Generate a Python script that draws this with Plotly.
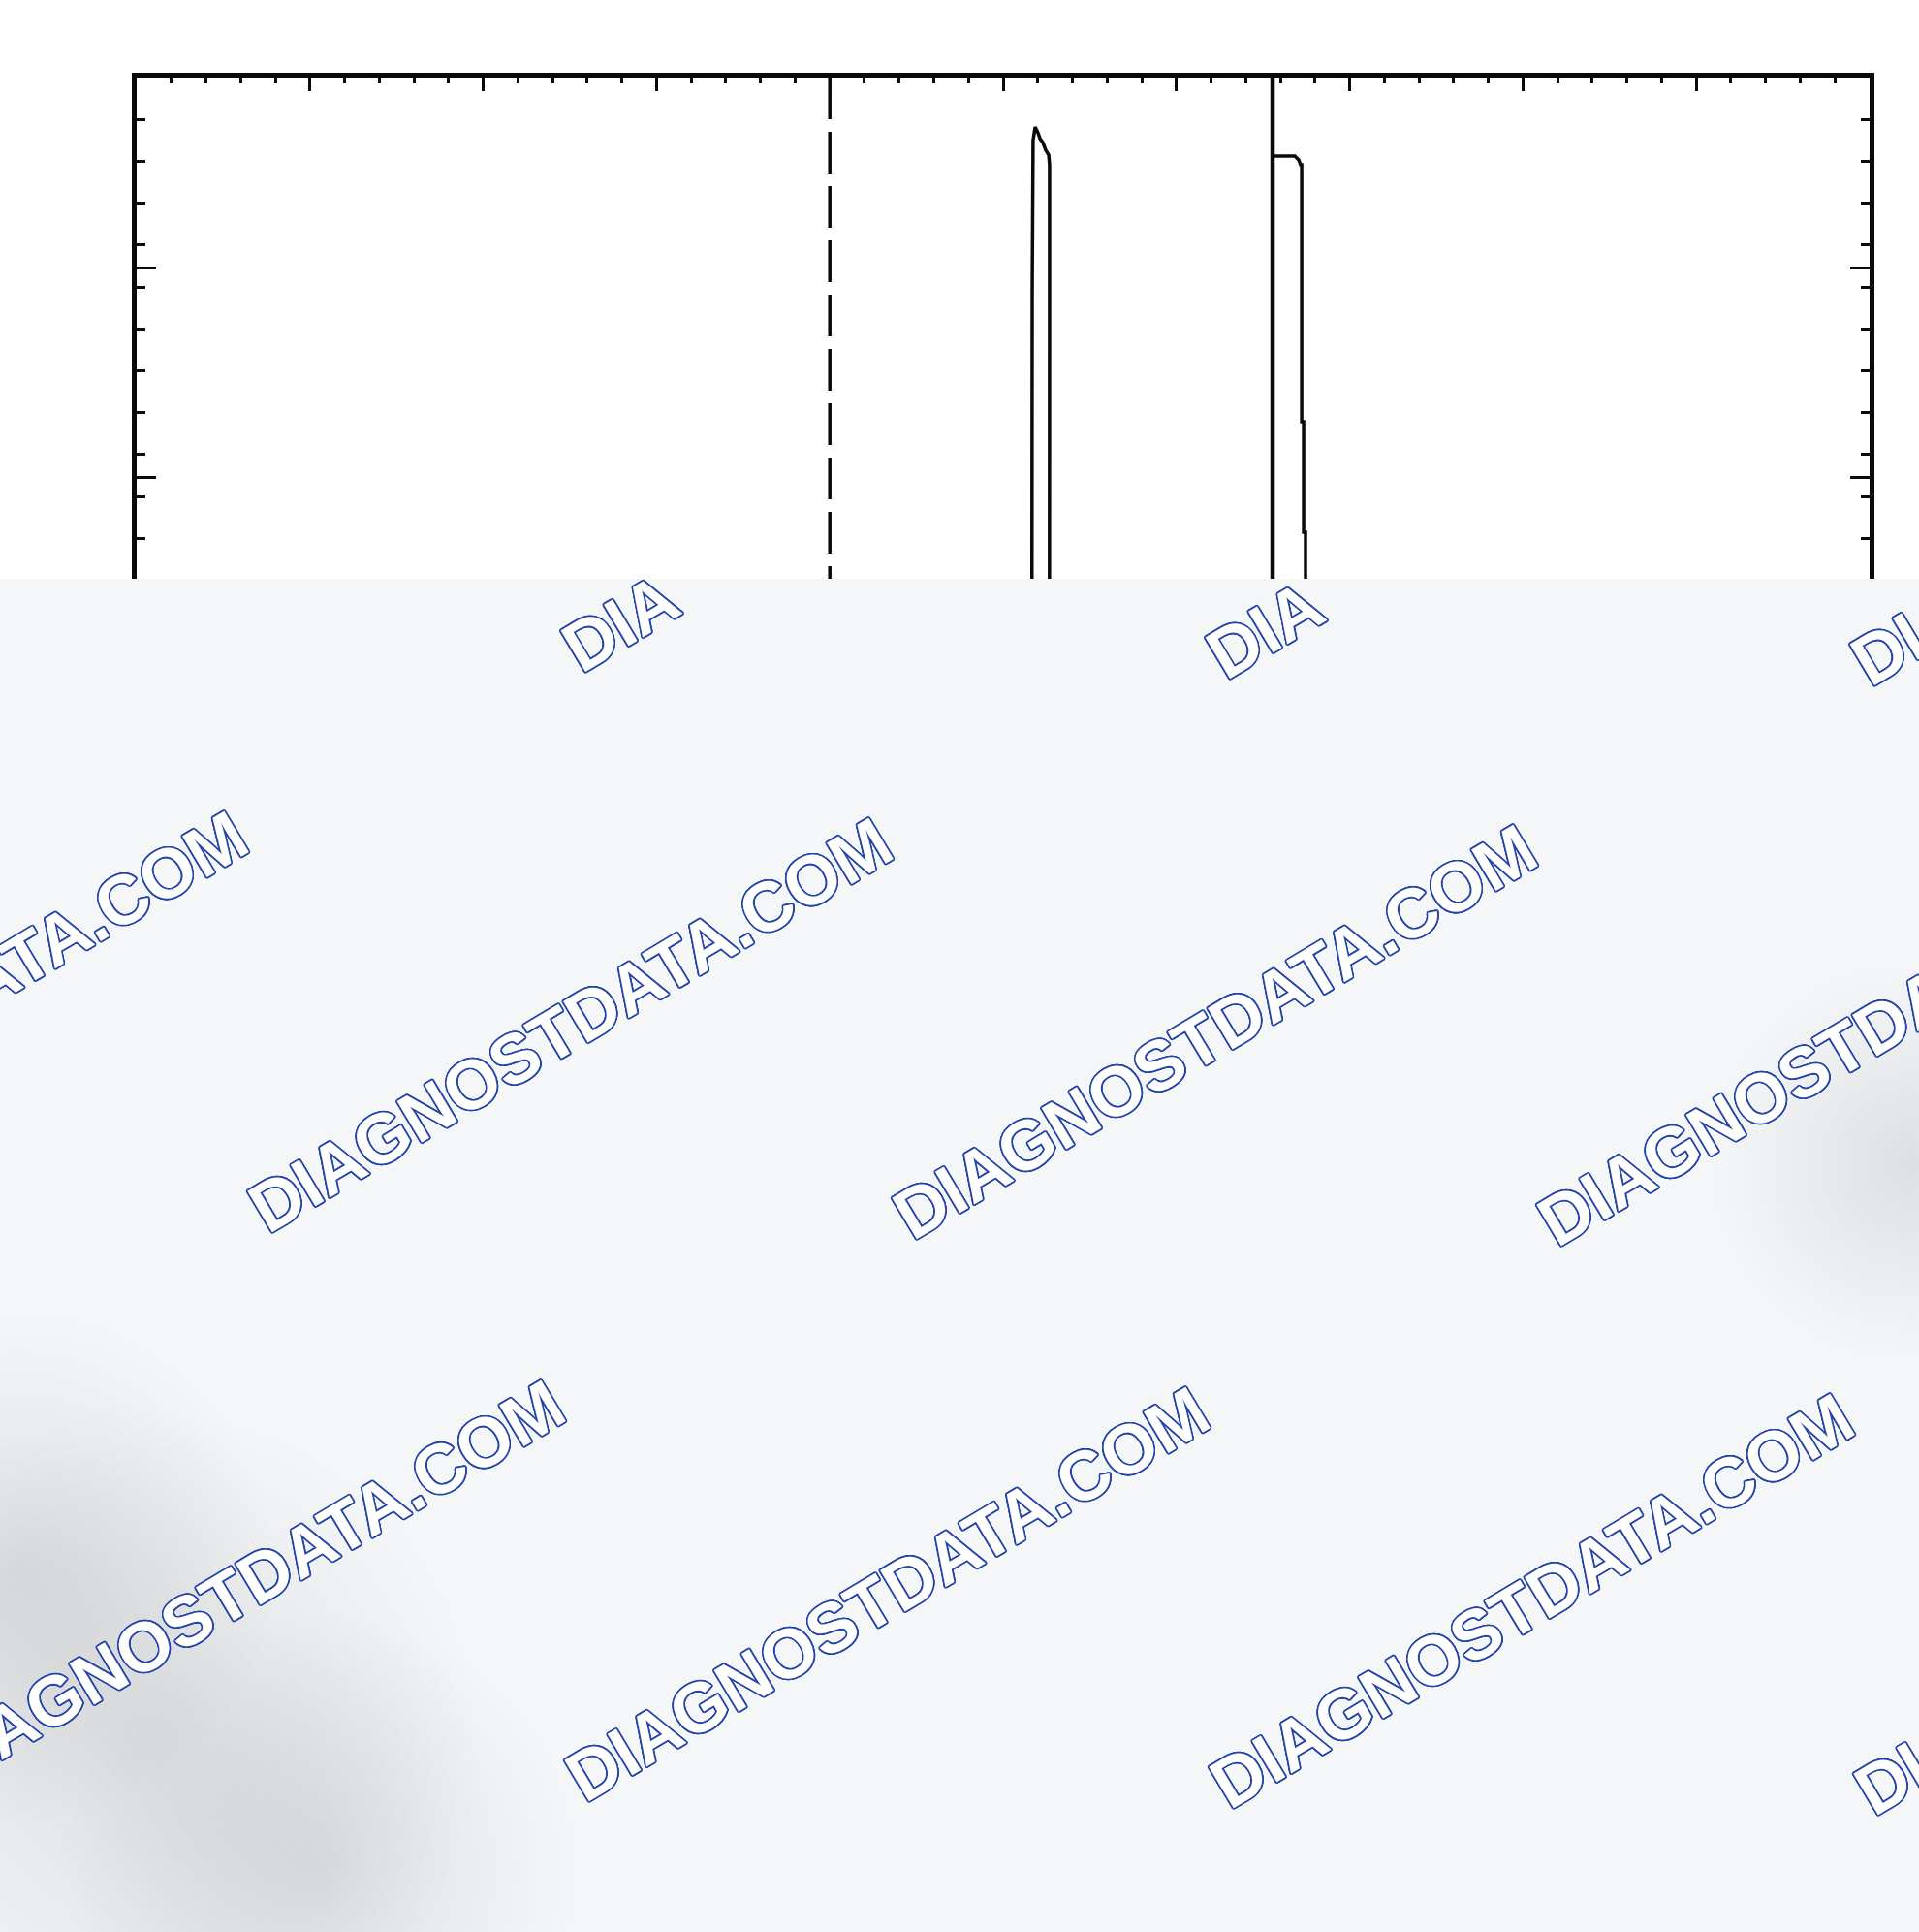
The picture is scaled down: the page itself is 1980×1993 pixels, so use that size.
import math
import plotly.graph_objects as go

# ---------------- data (screen divisions) ----------------
dash_x = [4.0, 4.0]
dash_y = [8.0, 0.3]

pulse1_x = [5.160, 5.162, 5.168, 5.173, 5.185, 5.201, 5.213, 5.229, 5.246, 5.263, 5.268, 5.268, 5.265]
pulse1_y = [0.3, 3.0, 6.981, 7.700, 7.764, 7.736, 7.708, 7.690, 7.653, 7.630, 7.583, 6.981, 0.3]

edge2_x = [6.555, 6.555]
edge2_y = [8.0, 0.3]

pulse2_x = [6.555, 6.683, 6.706, 6.717, 6.723, 6.723, 6.734, 6.734, 6.745, 6.745]
pulse2_y = [7.625, 7.625, 7.606, 7.583, 7.583, 6.356, 6.356, 5.829, 5.829, 0.3]

watermark_text = "DIAGNOSTDATA.COM"
watermark_part = "DIA"

# ---------------- layout geometry ----------------
W, H = 1980, 1993
ML, MR, MT, MB = 141, 51, 80, 185
PW, PH = W - ML - MR, H - MT - MB


def px(xp, yp):
    return (xp - ML) / PW, (H - MB - yp) / PH


fig = go.Figure()
line_black = "#0a0a0a"
fig.add_trace(go.Scatter(x=dash_x, y=dash_y, mode="lines",
                         line=dict(color=line_black, width=3.5, dash="43px,13px"), hoverinfo="skip"))
fig.add_trace(go.Scatter(x=pulse1_x, y=pulse1_y, mode="lines",
                         line=dict(color=line_black, width=3.5), hoverinfo="skip"))
fig.add_trace(go.Scatter(x=edge2_x, y=edge2_y, mode="lines",
                         line=dict(color=line_black, width=4.5), hoverinfo="skip"))
fig.add_trace(go.Scatter(x=pulse2_x, y=pulse2_y, mode="lines",
                         line=dict(color=line_black, width=3.5), hoverinfo="skip"))

shapes = []
# watermark panel
PANEL_TOP = 597
x0, y1 = px(0, PANEL_TOP)
x1, y0 = px(W, H)
shapes.append(dict(type="rect", xref="paper", yref="paper", x0=x0, x1=x1, y0=y0, y1=y1,
                   fillcolor="#f5f6f7", line=dict(width=0), layer="above"))
# soft blotches: (cx, cy, radius, strength, color)
grey = "rgb(168,171,175)"
white = "rgb(255,255,255)"
blotches = [
    (700, 760, 300, 0.85, white), (1250, 800, 240, 0.5, white), (300, 800, 220, 0.5, white),
    (1650, 1500, 300, 0.55, white), (1150, 1450, 200, 0.45, white), (1800, 800, 200, 0.4, white),
    (150, 1800, 340, 0.28, grey), (20, 1620, 260, 0.22, grey), (330, 1930, 260, 0.18, grey),
    (420, 1740, 200, 0.10, grey), (700, 1950, 260, 0.10, grey),
    (720, 1250, 190, 0.09, grey), (1130, 1220, 210, 0.09, grey), (1970, 1200, 200, 0.14, grey),
    (320, 1090, 160, 0.06, grey), (1400, 1790, 240, 0.08, grey), (980, 1830, 240, 0.08, grey),
]
N = 22
for cx, cy, r, s, col in blotches:
    a = 1 - (1 - s) ** (1 / N)
    for k in range(N, 0, -1):
        rr = r * k / N
        top = max(cy - rr, PANEL_TOP)
        ax0, ay1 = px(cx - rr, top)
        ax1, ay0 = px(cx + rr, cy + rr)
        shapes.append(dict(type="circle", xref="paper", yref="paper", x0=ax0, x1=ax1, y0=ay0, y1=ay1,
                           fillcolor=col, opacity=a, line=dict(width=0), layer="above"))
fig.update_layout(shapes=shapes)

# watermark annotations: start points (bottom-left of first letter) in pixels
ANG = 31.0
SIZE = 72
ux, uy = math.cos(math.radians(ANG)), -math.sin(math.radians(ANG))
vx, vy = -math.sin(math.radians(ANG)), -math.cos(math.radians(ANG))
EM_FULL = 11.2
EM_PART = 1.81
cap_half = 0.716 * SIZE / 2
PERP_FIX = -13          # along v (negative = down-right)
ALONG_FIX = {"full": -6, "part": 13}

starts_full = [(-410, 1266), (255, 1273), (920, 1280), (1585, 1287),
               (-83, 1853), (582, 1860), (1247, 1867), (1912, 1874)]
starts_part = [(580, 693), (1245, 700), (1910, 707)]

blue = "#2545a8"
offs = [(round(1.7 * math.cos(t * math.pi / 8), 2), round(1.7 * math.sin(t * math.pi / 8), 2)) for t in range(16)]
shadow = ", ".join(f"{dx}px {dy}px 0 {blue}" for dx, dy in offs)
font = dict(family="Liberation Sans, Arial, sans-serif", size=SIZE, color="#ffffff",
            weight="bold", shadow=shadow)

annos = []
items = [(s, watermark_text, EM_FULL, "full") for s in starts_full] + \
        [(s, watermark_part, EM_PART, "part") for s in starts_part]
for (sx, sy), text, em, kind in items:
    half = em * SIZE / 2 + ALONG_FIX[kind]
    cx = sx + ux * half + vx * (cap_half + PERP_FIX)
    cy = sy + uy * half + vy * (cap_half + PERP_FIX)
    ax, ay = px(cx, cy)
    annos.append(dict(x=ax, y=ay, xref="paper", yref="paper", text=text, showarrow=False,
                      textangle=-ANG, font=font, xanchor="center", yanchor="middle"))

axis_common = dict(showgrid=False, zeroline=False, showline=True, linewidth=5, linecolor=line_black,
                   mirror="ticks", ticks="inside", tickcolor=line_black, showticklabels=False)
fig.update_layout(
    width=W, height=H, margin=dict(l=ML, r=MR, t=MT, b=MB),
    paper_bgcolor="white", plot_bgcolor="white", showlegend=False,
    annotations=annos,
    xaxis=dict(range=[0, 10], dtick=1, tick0=0, ticklen=14, tickwidth=3,
               minor=dict(ticks="inside", dtick=0.2, ticklen=6, tickwidth=3, tickcolor=line_black),
               **axis_common),
    yaxis=dict(range=[0, 8], dtick=1, tick0=0.088, ticklen=20, tickwidth=3,
               minor=dict(ticks="inside", dtick=0.2, ticklen=9, tickwidth=3, tickcolor=line_black),
               **axis_common),
)

fig.write_html("out.html", config={"displayModeBar": False},
               post_script="document.body.style.margin='0';document.body.style.overflow='hidden';")
